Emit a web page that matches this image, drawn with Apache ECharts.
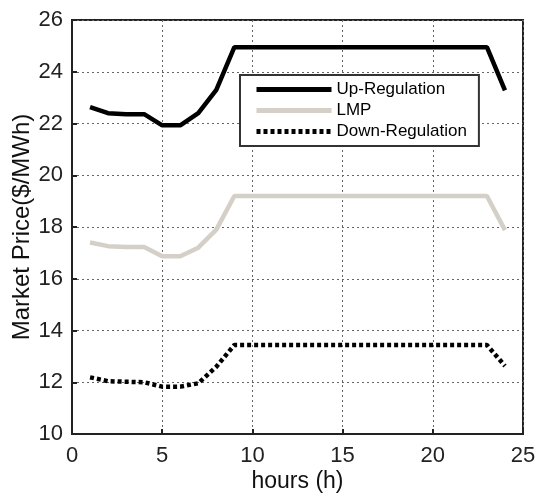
<!DOCTYPE html>
<html><head><meta charset="utf-8">
<script src="https://cdn.jsdelivr.net/npm/echarts@6/dist/echarts.min.js"></script>
<style>html,body{margin:0;padding:0;background:#fff}#c{width:535px;height:493px}</style>
</head><body><div id="c"></div>
<script>
const hours = [1,2,3,4,5,6,7,8,9,10,11,12,13,14,15,16,17,18,19,20,21,22,23,24];
const upReg = [22.63,22.4,22.36,22.36,21.93,21.93,22.4,23.3,24.95,24.95,24.95,24.95,24.95,24.95,24.95,24.95,24.95,24.95,24.95,24.95,24.95,24.95,24.95,23.28];
const lmp = [17.4,17.26,17.23,17.23,16.87,16.87,17.2,17.9,19.2,19.2,19.2,19.2,19.2,19.2,19.2,19.2,19.2,19.2,19.2,19.2,19.2,19.2,19.2,17.88];
const downReg = [12.19,12.04,12.02,12.0,11.83,11.83,11.96,12.6,13.44,13.44,13.44,13.44,13.44,13.44,13.44,13.44,13.44,13.44,13.44,13.44,13.44,13.44,13.44,12.63];
const seriesNames = ['Up-Regulation','LMP','Down-Regulation'];
const xLabel = 'hours (h)';
const yLabel = 'Market Price($/MWh)';

const pair = arr => hours.map((h,i)=>[h,arr[i]]);
const chart = echarts.init(document.getElementById('c'));
const font = 'Liberation Sans, Arial, sans-serif';
const gridLine = {show:true,lineStyle:{color:'#666',type:[2,3],width:1}};
const colors = ['#000','#d4d0c8','#000'];
const dash = ['solid','solid',[4,3]];
chart.setOption({
  animation:false,
  grid:{left:72,right:12,top:20,bottom:59,outerBoundsMode:'none',containLabel:false,
    show:true,borderColor:'#222',borderWidth:2,backgroundColor:'transparent'},
  legend:{
    orient:'vertical',left:240,top:75,
    data:seriesNames.map((n,i)=>({name:n,itemStyle:{opacity:0},
      lineStyle:{color:colors[i],width:5,type:dash[i],opacity:1}})),
    backgroundColor:'#fff',borderColor:'#333',borderWidth:2,
    padding:[6,12,6,14],itemGap:4,itemWidth:75,itemHeight:18,
    textStyle:{fontFamily:font,fontSize:17,color:'#000'}
  },
  xAxis:{type:'value',min:0,max:25,interval:5,
    name:xLabel,nameLocation:'middle',nameGap:36,nameMoveOverlap:false,
    nameTextStyle:{fontFamily:font,fontSize:23,color:'#111'},
    axisLine:{show:true,onZero:false,lineStyle:{color:'#222',width:2}},
    axisTick:{show:true,inside:true,length:5,lineStyle:{color:'#222',width:2}},
    axisLabel:{fontFamily:font,fontSize:22,color:'#222',margin:11},
    splitLine:gridLine},
  yAxis:{type:'value',min:10,max:26,interval:2,
    name:yLabel,nameLocation:'middle',nameGap:38,nameMoveOverlap:false,
    nameTextStyle:{fontFamily:font,fontSize:24,color:'#111'},
    axisLine:{show:true,lineStyle:{color:'#222',width:2}},
    axisTick:{show:true,inside:true,length:5,lineStyle:{color:'#222',width:2}},
    axisLabel:{fontFamily:font,fontSize:22,color:'#222',margin:9},
    splitLine:gridLine},
  series:[
    {name:seriesNames[0],type:'line',data:pair(upReg),symbol:'none',
      itemStyle:{color:colors[0]},lineStyle:{color:colors[0],width:4.5}},
    {name:seriesNames[1],type:'line',data:pair(lmp),symbol:'none',
      itemStyle:{color:colors[1]},lineStyle:{color:colors[1],width:4.5}},
    {name:seriesNames[2],type:'line',data:pair(downReg),symbol:'none',
      itemStyle:{color:colors[2]},lineStyle:{color:colors[2],width:4.5,type:dash[2]}}
  ]
});
</script></body></html>
